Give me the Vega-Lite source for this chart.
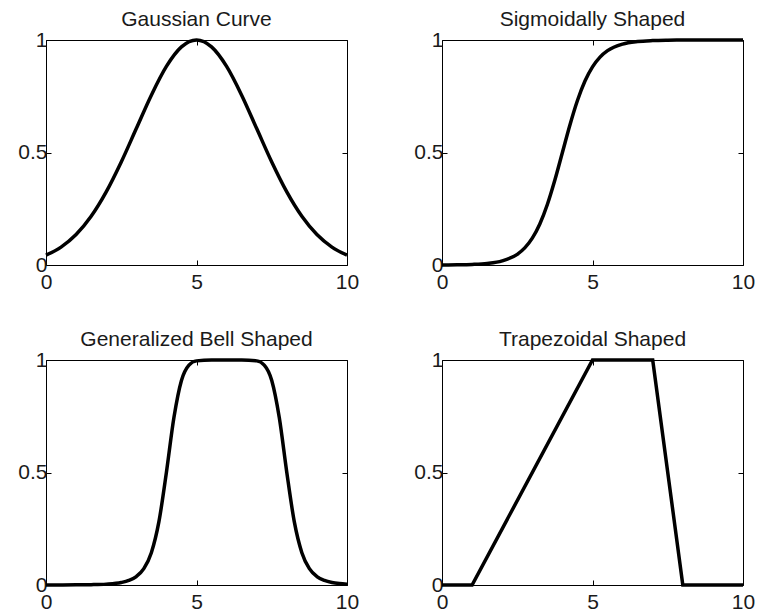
{
  "$schema": "https://vega.github.io/schema/vega-lite/v6.json",
  "background": "white",
  "padding": {"left": 17, "top": 8, "right": 0, "bottom": 0},
  "data": {"values": [
    {"panel": "gauss", "x": 0, "y": 0.0439}, {"panel": "gauss", "x": 0.5, "y": 0.0796}, {"panel": "gauss", "x": 1, "y": 0.1353}, {"panel": "gauss", "x": 1.5, "y": 0.2163}, {"panel": "gauss", "x": 2, "y": 0.3247}, {"panel": "gauss", "x": 2.5, "y": 0.4578}, {"panel": "gauss", "x": 3, "y": 0.6065}, {"panel": "gauss", "x": 3.5, "y": 0.7548}, {"panel": "gauss", "x": 4, "y": 0.8825}, {"panel": "gauss", "x": 4.5, "y": 0.9692}, {"panel": "gauss", "x": 5, "y": 1}, {"panel": "gauss", "x": 5.5, "y": 0.9692}, {"panel": "gauss", "x": 6, "y": 0.8825}, {"panel": "gauss", "x": 6.5, "y": 0.7548}, {"panel": "gauss", "x": 7, "y": 0.6065}, {"panel": "gauss", "x": 7.5, "y": 0.4578}, {"panel": "gauss", "x": 8, "y": 0.3247}, {"panel": "gauss", "x": 8.5, "y": 0.2163}, {"panel": "gauss", "x": 9, "y": 0.1353}, {"panel": "gauss", "x": 9.5, "y": 0.0796}, {"panel": "gauss", "x": 10, "y": 0.0439},
    {"panel": "sig", "x": 0, "y": 0.0003}, {"panel": "sig", "x": 0.5, "y": 0.0009}, {"panel": "sig", "x": 1, "y": 0.0025}, {"panel": "sig", "x": 1.5, "y": 0.0067}, {"panel": "sig", "x": 2, "y": 0.018}, {"panel": "sig", "x": 2.5, "y": 0.0474}, {"panel": "sig", "x": 2.75, "y": 0.0759}, {"panel": "sig", "x": 3, "y": 0.1192}, {"panel": "sig", "x": 3.25, "y": 0.1824}, {"panel": "sig", "x": 3.5, "y": 0.2689}, {"panel": "sig", "x": 3.75, "y": 0.3775}, {"panel": "sig", "x": 4, "y": 0.5}, {"panel": "sig", "x": 4.25, "y": 0.6225}, {"panel": "sig", "x": 4.5, "y": 0.7311}, {"panel": "sig", "x": 4.75, "y": 0.8176}, {"panel": "sig", "x": 5, "y": 0.8808}, {"panel": "sig", "x": 5.25, "y": 0.9241}, {"panel": "sig", "x": 5.5, "y": 0.9526}, {"panel": "sig", "x": 6, "y": 0.982}, {"panel": "sig", "x": 6.5, "y": 0.9933}, {"panel": "sig", "x": 7, "y": 0.9975}, {"panel": "sig", "x": 7.5, "y": 0.9991}, {"panel": "sig", "x": 8, "y": 0.9997}, {"panel": "sig", "x": 9, "y": 1}, {"panel": "sig", "x": 10, "y": 1},
    {"panel": "bell", "x": 0, "y": 0.0002}, {"panel": "bell", "x": 1, "y": 0.0007}, {"panel": "bell", "x": 1.5, "y": 0.0015}, {"panel": "bell", "x": 2, "y": 0.0039}, {"panel": "bell", "x": 2.5, "y": 0.0112}, {"panel": "bell", "x": 2.75, "y": 0.0202}, {"panel": "bell", "x": 3, "y": 0.0376}, {"panel": "bell", "x": 3.25, "y": 0.0726}, {"panel": "bell", "x": 3.5, "y": 0.1437}, {"panel": "bell", "x": 3.75, "y": 0.2804}, {"panel": "bell", "x": 4, "y": 0.5}, {"panel": "bell", "x": 4.25, "y": 0.7443}, {"panel": "bell", "x": 4.5, "y": 0.909}, {"panel": "bell", "x": 4.75, "y": 0.9773}, {"panel": "bell", "x": 5, "y": 0.9961}, {"panel": "bell", "x": 5.5, "y": 1}, {"panel": "bell", "x": 6, "y": 1}, {"panel": "bell", "x": 6.5, "y": 1}, {"panel": "bell", "x": 7, "y": 0.9961}, {"panel": "bell", "x": 7.25, "y": 0.9773}, {"panel": "bell", "x": 7.5, "y": 0.909}, {"panel": "bell", "x": 7.75, "y": 0.7443}, {"panel": "bell", "x": 8, "y": 0.5}, {"panel": "bell", "x": 8.25, "y": 0.2804}, {"panel": "bell", "x": 8.5, "y": 0.1437}, {"panel": "bell", "x": 8.75, "y": 0.0726}, {"panel": "bell", "x": 9, "y": 0.0376}, {"panel": "bell", "x": 9.25, "y": 0.0202}, {"panel": "bell", "x": 9.5, "y": 0.0112}, {"panel": "bell", "x": 9.75, "y": 0.0065}, {"panel": "bell", "x": 10, "y": 0.0039},
    {"panel": "trap", "x": 0, "y": 0}, {"panel": "trap", "x": 1, "y": 0}, {"panel": "trap", "x": 5, "y": 1}, {"panel": "trap", "x": 7, "y": 1}, {"panel": "trap", "x": 8, "y": 0}, {"panel": "trap", "x": 10, "y": 0}
  ]},
  "columns": 2,
  "spacing": {"row": 95, "column": 95},
  "bounds": "flush",
  "concat": [
    {
      "title": "Gaussian Curve", "width": 301, "height": 225,
      "transform": [{"filter": "datum.panel === 'gauss'"}],
      "layer": [
        {"mark": {"type": "line", "color": "black", "strokeWidth": 3.5, "interpolate": "monotone"},
         "encoding": {
           "x": {"field": "x", "type": "quantitative", "scale": {"domain": [0, 10], "nice": false}, "axis": {"orient": "bottom", "title": null, "values": [0, 5, 10], "format": "d", "labelPadding": 11}},
           "y": {"field": "y", "type": "quantitative", "scale": {"domain": [0, 1], "nice": false}, "axis": {"orient": "left", "title": null, "values": [0, 0.5, 1], "format": "~g", "labelPadding": 4}}}},
        {"mark": {"type": "line", "opacity": 0},
         "encoding": {
           "x": {"field": "x", "type": "quantitative", "axis": {"orient": "top", "title": null, "values": [0, 5, 10], "labels": false}},
           "y": {"field": "y", "type": "quantitative", "axis": {"orient": "right", "title": null, "values": [0, 0.5, 1], "labels": false}}}}
      ],
      "resolve": {"axis": {"x": "independent", "y": "independent"}}
    },
    {
      "title": "Sigmoidally Shaped", "width": 301, "height": 225,
      "transform": [{"filter": "datum.panel === 'sig'"}],
      "layer": [
        {"mark": {"type": "line", "color": "black", "strokeWidth": 3.5, "interpolate": "monotone"},
         "encoding": {
           "x": {"field": "x", "type": "quantitative", "scale": {"domain": [0, 10], "nice": false}, "axis": {"orient": "bottom", "title": null, "values": [0, 5, 10], "format": "d", "labelPadding": 11}},
           "y": {"field": "y", "type": "quantitative", "scale": {"domain": [0, 1], "nice": false}, "axis": {"orient": "left", "title": null, "values": [0, 0.5, 1], "format": "~g", "labelPadding": 4}}}},
        {"mark": {"type": "line", "opacity": 0},
         "encoding": {
           "x": {"field": "x", "type": "quantitative", "axis": {"orient": "top", "title": null, "values": [0, 5, 10], "labels": false}},
           "y": {"field": "y", "type": "quantitative", "axis": {"orient": "right", "title": null, "values": [0, 0.5, 1], "labels": false}}}}
      ],
      "resolve": {"axis": {"x": "independent", "y": "independent"}}
    },
    {
      "title": "Generalized Bell Shaped", "width": 301, "height": 225,
      "transform": [{"filter": "datum.panel === 'bell'"}],
      "layer": [
        {"mark": {"type": "line", "color": "black", "strokeWidth": 3.5, "interpolate": "monotone"},
         "encoding": {
           "x": {"field": "x", "type": "quantitative", "scale": {"domain": [0, 10], "nice": false}, "axis": {"orient": "bottom", "title": null, "values": [0, 5, 10], "format": "d", "labelPadding": 11}},
           "y": {"field": "y", "type": "quantitative", "scale": {"domain": [0, 1], "nice": false}, "axis": {"orient": "left", "title": null, "values": [0, 0.5, 1], "format": "~g", "labelPadding": 4}}}},
        {"mark": {"type": "line", "opacity": 0},
         "encoding": {
           "x": {"field": "x", "type": "quantitative", "axis": {"orient": "top", "title": null, "values": [0, 5, 10], "labels": false}},
           "y": {"field": "y", "type": "quantitative", "axis": {"orient": "right", "title": null, "values": [0, 0.5, 1], "labels": false}}}}
      ],
      "resolve": {"axis": {"x": "independent", "y": "independent"}}
    },
    {
      "title": "Trapezoidal Shaped", "width": 301, "height": 225,
      "transform": [{"filter": "datum.panel === 'trap'"}],
      "layer": [
        {"mark": {"type": "line", "color": "black", "strokeWidth": 3.5, "interpolate": "linear"},
         "encoding": {
           "x": {"field": "x", "type": "quantitative", "scale": {"domain": [0, 10], "nice": false}, "axis": {"orient": "bottom", "title": null, "values": [0, 5, 10], "format": "d", "labelPadding": 11}},
           "y": {"field": "y", "type": "quantitative", "scale": {"domain": [0, 1], "nice": false}, "axis": {"orient": "left", "title": null, "values": [0, 0.5, 1], "format": "~g", "labelPadding": 4}}}},
        {"mark": {"type": "line", "opacity": 0},
         "encoding": {
           "x": {"field": "x", "type": "quantitative", "axis": {"orient": "top", "title": null, "values": [0, 5, 10], "labels": false}},
           "y": {"field": "y", "type": "quantitative", "axis": {"orient": "right", "title": null, "values": [0, 0.5, 1], "labels": false}}}}
      ],
      "resolve": {"axis": {"x": "independent", "y": "independent"}}
    }
  ],
  "config": {
    "view": {"stroke": "black", "strokeWidth": 1},
    "axis": {"domain": false, "grid": false, "ticks": true, "tickSize": -5, "tickColor": "black", "tickWidth": 1, "labelFont": "Liberation Sans", "labelFontSize": 21, "labelColor": "#1a1a1a", "labelFlush": false, "labelOverlap": false},
    "title": {"font": "Liberation Sans", "fontSize": 21, "fontWeight": "normal", "color": "#1a1a1a", "offset": -1, "anchor": "middle"}
  }
}
